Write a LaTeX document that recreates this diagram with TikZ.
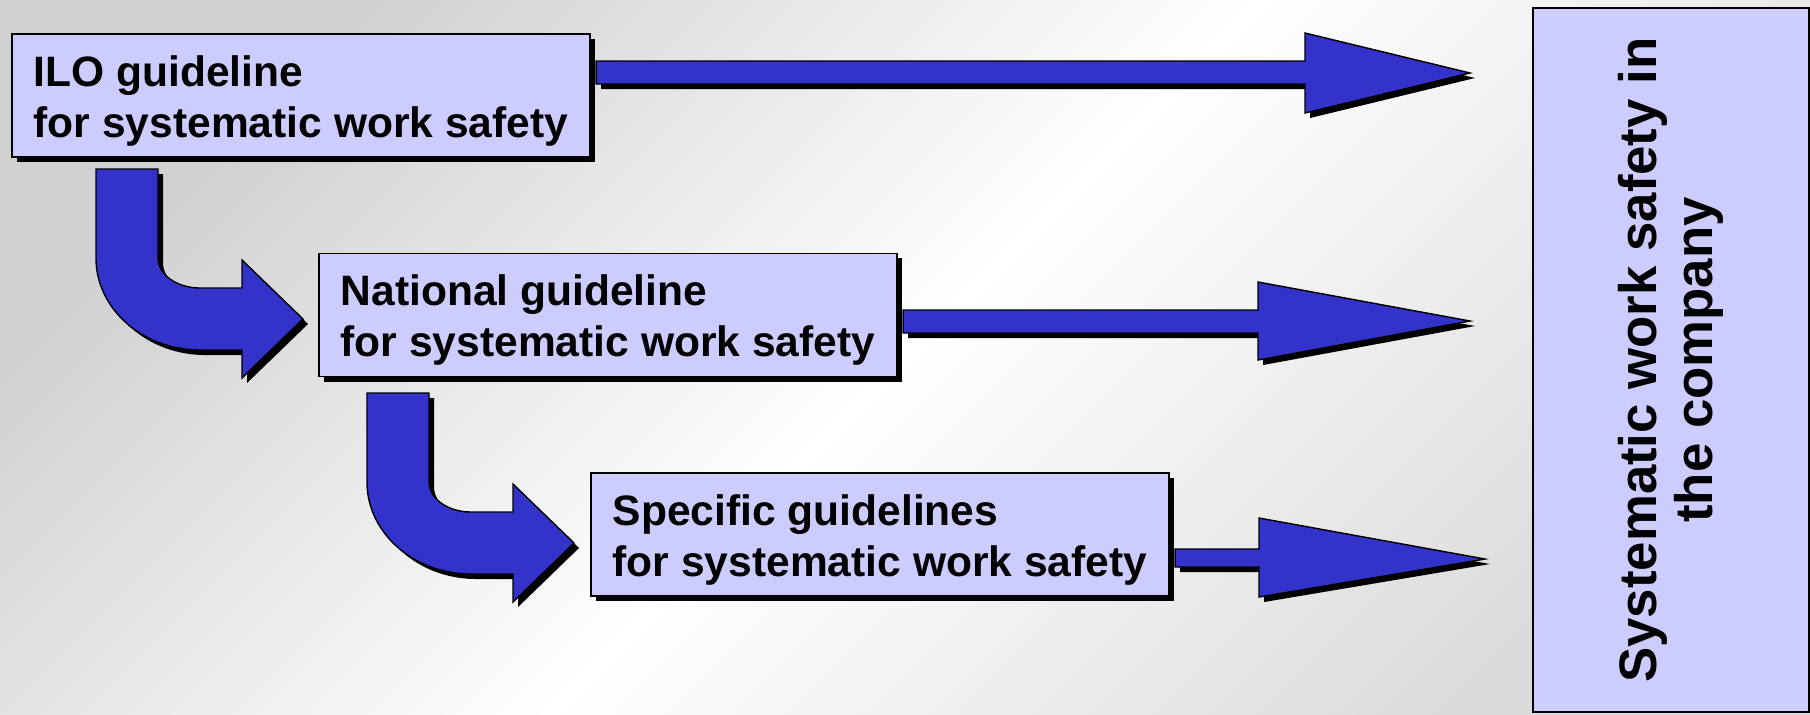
\documentclass[tikz,border=0pt]{standalone}
\usepackage{fontspec}
\setmainfont{Liberation Sans}
\usetikzlibrary{shadows,calc}
\definecolor{boxblue}{HTML}{CCCCFF}
\definecolor{arrowblue}{HTML}{3333CC}
\tikzset{
  hardshadow/.style={drop shadow={shadow xshift=0.05cm, shadow yshift=-0.05cm, fill=black, opacity=1}},
  guidebox/.style={draw, line width=0.5pt, fill=boxblue, hardshadow, minimum width=5.78cm, minimum height=1.23cm,
    text height=0.92cm, align=left, inner sep=0pt, font=\fontsize{12.1}{14.5}\selectfont\bfseries},
  blockarrow/.style={draw, line width=0.4pt, fill=arrowblue, hardshadow},
  bentarrow/.pic={
    \draw[blockarrow] (0,0) -- (62,0) -- (62,89) arc[start angle=180, end angle=90, x radius=42, y radius=30]
      -- (146,119) -- (146,91) -- (207,150) -- (146,209) -- (146,181) -- (104,181)
      arc[start angle=90, end angle=180, x radius=104, y radius=92] -- cycle;
  }
}
\begin{document}
\begin{tikzpicture}[x=0.01cm, y=-0.01cm]
\useasboundingbox (0,0) rectangle (1810,714);
\begin{scope}[x=1cm, y=1cm]
\shade[top color=black!18, bottom color=black!14, middle color=white, shading angle=45] (0,0) rectangle (18.1,-7.14);
\end{scope}

\node[guidebox] (ilo) at (301,95.5) {ILO guideline\\for systematic work safety};
\node[guidebox] (national) at (608,315) {National guideline\\for systematic work safety};
\node[guidebox] (specific) at (880,534.5) {Specific guidelines\\for systematic work safety};
\node[draw, line width=0.5pt, fill=boxblue, rotate=90, minimum width=7.04cm, minimum height=2.76cm, align=center,
  inner sep=0pt, font=\fontsize{15}{16}\selectfont\bfseries] (company) at (1671,360) {Systematic work safety in\\the company};

\pic at (96,169) {bentarrow};
\pic at (367,393) {bentarrow};

\draw[blockarrow] ($(ilo.east |- 0,61)+(5,0)$) -- (1305,61) -- (1305,33) -- (1470,73) -- (1305,113) -- (1305,84)
  -- ($(ilo.east |- 0,84)+(5,0)$) -- cycle;
\draw[blockarrow] ($(national.east |- 0,310)+(5,0)$) -- (1258,310) -- (1258,282) -- (1470,321) -- (1258,360) -- (1258,333)
  -- ($(national.east |- 0,333)+(5,0)$) -- cycle;
\draw[blockarrow] ($(specific.east |- 0,549)+(5,0)$) -- (1259,549) -- (1259,518) -- (1485,559) -- (1259,597) -- (1259,567)
  -- ($(specific.east |- 0,567)+(5,0)$) -- cycle;
\end{tikzpicture}
\end{document}
